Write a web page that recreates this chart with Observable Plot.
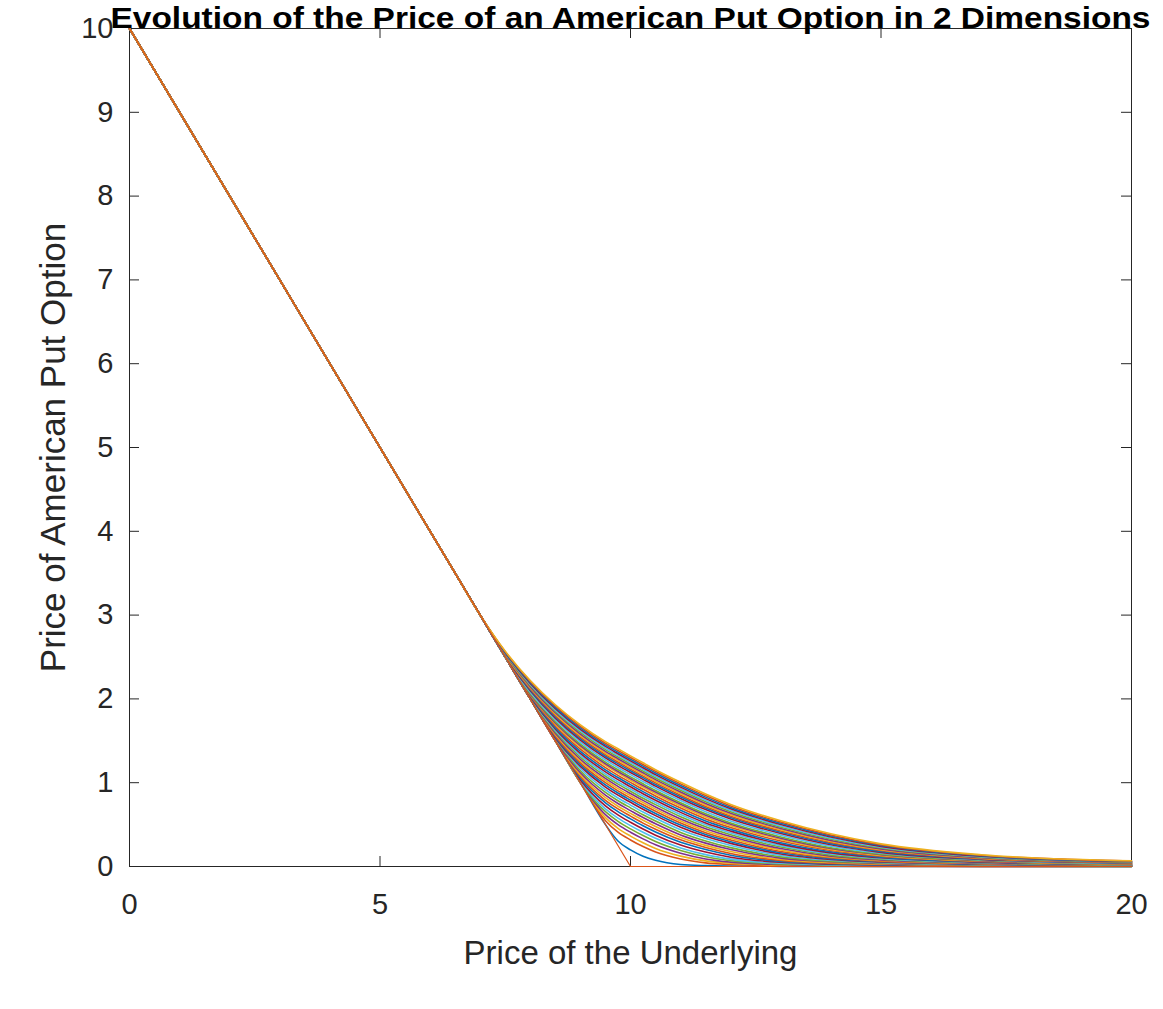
<!DOCTYPE html>
<html><head><meta charset="utf-8">
<script src="https://cdn.jsdelivr.net/npm/d3@7"></script>
<script src="https://cdn.jsdelivr.net/npm/@observablehq/plot@0.6"></script>
<style>
html,body{margin:0;padding:0;background:#fff;}
#chart svg{display:block;overflow:visible}
</style></head><body><div id="chart"></div>
<script>
// Price of the underlying (common grid for every curve)
const underlying = [0, 6.5, 7, 7.5, 8, 8.5, 9, 9.5, 9.75, 10, 10.25, 10.5, 11, 11.5, 12, 13, 14, 15, 17, 20];

// Option price curves, from the shortest to the longest time to maturity
const optionPrices = [
  [10, 3.5,3,2.5,2,1.5,1,0.5,0.304,0.198,0.123,0.074,0.024,0.010,0.005,0.002,0.001,0,0,0],
  [10, 3.5,3,2.5,2,1.5,1,0.547,0.410,0.317,0.238,0.173,0.089,0.043,0.024,0.010,0.005,0.002,0.001,0],
  [10, 3.5,3,2.5,2,1.5,1,0.583,0.455,0.363,0.284,0.216,0.124,0.067,0.038,0.017,0.009,0.005,0.002,0],
  [10, 3.5,3,2.5,2,1.5,1,0.619,0.500,0.409,0.330,0.259,0.158,0.090,0.052,0.023,0.012,0.007,0.002,0],
  [10, 3.5,3,2.5,2,1.5,1.003,0.654,0.539,0.449,0.369,0.298,0.190,0.116,0.070,0.031,0.017,0.010,0.004,0.001],
  [10, 3.5,3,2.5,2,1.5,1.015,0.688,0.577,0.488,0.408,0.336,0.222,0.142,0.088,0.038,0.022,0.013,0.005,0.002],
  [10, 3.5,3,2.5,2,1.5,1.033,0.724,0.616,0.528,0.447,0.374,0.256,0.172,0.111,0.050,0.028,0.017,0.007,0.003],
  [10, 3.5,3,2.5,2,1.5,1.052,0.760,0.655,0.568,0.486,0.412,0.289,0.202,0.134,0.061,0.034,0.021,0.009,0.003],
  [10, 3.5,3,2.5,2,1.5,1.073,0.790,0.687,0.601,0.518,0.445,0.318,0.227,0.156,0.073,0.040,0.026,0.011,0.004],
  [10, 3.5,3,2.5,2,1.5,1.094,0.821,0.719,0.634,0.551,0.477,0.347,0.252,0.178,0.085,0.047,0.030,0.013,0.004],
  [10, 3.5,3,2.5,2,1.505,1.118,0.852,0.752,0.667,0.584,0.510,0.377,0.279,0.202,0.100,0.056,0.036,0.017,0.006],
  [10, 3.5,3,2.5,2,1.525,1.142,0.884,0.785,0.700,0.617,0.542,0.407,0.305,0.225,0.115,0.064,0.041,0.020,0.007],
  [10, 3.5,3,2.5,2,1.530,1.169,0.916,0.818,0.733,0.650,0.575,0.438,0.333,0.251,0.132,0.074,0.047,0.023,0.009],
  [10, 3.5,3,2.5,2,1.534,1.195,0.948,0.851,0.766,0.683,0.607,0.469,0.360,0.276,0.149,0.084,0.053,0.026,0.011],
  [10, 3.5,3,2.5,2,1.546,1.216,0.974,0.877,0.792,0.710,0.633,0.494,0.382,0.296,0.164,0.094,0.059,0.030,0.012],
  [10, 3.5,3,2.5,2,1.558,1.237,1.000,0.903,0.818,0.736,0.659,0.519,0.404,0.316,0.179,0.104,0.064,0.033,0.013],
  [10, 3.5,3,2.5,2,1.575,1.259,1.026,0.930,0.845,0.763,0.685,0.544,0.428,0.337,0.197,0.114,0.072,0.037,0.015],
  [10, 3.5,3,2.5,2,1.591,1.280,1.051,0.956,0.871,0.789,0.711,0.568,0.451,0.357,0.214,0.123,0.079,0.040,0.016],
  [10, 3.5,3,2.5,2.005,1.608,1.304,1.077,0.983,0.898,0.815,0.738,0.594,0.474,0.379,0.232,0.136,0.087,0.044,0.019],
  [10, 3.5,3,2.5,2.014,1.624,1.327,1.103,1.009,0.924,0.841,0.764,0.620,0.497,0.400,0.249,0.149,0.095,0.048,0.021],
  [10, 3.5,3,2.5,2.022,1.641,1.351,1.129,1.036,0.951,0.868,0.790,0.646,0.520,0.422,0.267,0.163,0.104,0.052,0.024],
  [10, 3.5,3,2.5,2.031,1.657,1.375,1.154,1.062,0.977,0.894,0.816,0.671,0.543,0.443,0.284,0.176,0.112,0.056,0.026],
  [10, 3.5,3,2.5,2.040,1.677,1.400,1.180,1.088,1.004,0.921,0.842,0.697,0.568,0.465,0.304,0.190,0.122,0.061,0.029],
  [10, 3.5,3,2.5,2.048,1.697,1.424,1.206,1.114,1.030,0.947,0.868,0.722,0.592,0.486,0.323,0.203,0.132,0.065,0.031],
  [10, 3.5,3,2.5,2.056,1.713,1.442,1.226,1.134,1.050,0.967,0.888,0.742,0.611,0.503,0.338,0.214,0.140,0.070,0.033],
  [10, 3.5,3,2.5,2.064,1.728,1.460,1.245,1.154,1.069,0.987,0.907,0.761,0.629,0.520,0.353,0.224,0.147,0.074,0.035],
  [10, 3.5,3,2.5,2.080,1.750,1.485,1.271,1.181,1.096,1.014,0.933,0.787,0.654,0.543,0.374,0.242,0.158,0.080,0.038],
  [10, 3.5,3,2.507,2.097,1.771,1.509,1.297,1.207,1.122,1.040,0.959,0.812,0.679,0.566,0.394,0.259,0.169,0.085,0.041],
  [10, 3.5,3,2.514,2.109,1.787,1.527,1.316,1.227,1.142,1.060,0.979,0.832,0.698,0.584,0.409,0.273,0.180,0.090,0.044],
  [10, 3.5,3,2.520,2.121,1.802,1.545,1.335,1.247,1.162,1.079,0.998,0.851,0.716,0.601,0.424,0.286,0.190,0.094,0.046],
  [10, 3.5,3,2.526,2.134,1.819,1.563,1.355,1.267,1.182,1.099,1.018,0.870,0.735,0.618,0.439,0.299,0.200,0.100,0.049],
  [10, 3.5,3,2.532,2.146,1.835,1.581,1.374,1.286,1.201,1.118,1.037,0.889,0.753,0.635,0.454,0.311,0.210,0.105,0.052],
  [10, 3.5,3,2.539,2.159,1.851,1.600,1.394,1.306,1.221,1.138,1.057,0.909,0.772,0.653,0.469,0.325,0.220,0.111,0.055],
  [10, 3.5,3,2.545,2.171,1.866,1.618,1.413,1.326,1.241,1.158,1.076,0.928,0.791,0.670,0.484,0.338,0.230,0.117,0.057],
  [10, 3.5,3,2.551,2.183,1.883,1.636,1.433,1.346,1.261,1.178,1.096,0.947,0.810,0.688,0.500,0.351,0.240,0.123,0.060],
  [10, 3.5,3,2.557,2.195,1.899,1.654,1.452,1.365,1.280,1.198,1.116,0.966,0.828,0.705,0.515,0.364,0.250,0.128,0.062],
  [10, 3.5,3,2.564,2.208,1.915,1.672,1.471,1.385,1.300,1.218,1.136,0.986,0.847,0.723,0.530,0.377,0.260,0.134,0.065],
  [10, 3.5,3,2.570,2.220,1.930,1.690,1.490,1.405,1.320,1.238,1.155,1.005,0.865,0.740,0.545,0.390,0.270,0.140,0.068]
];

// Payoff at expiry
const payoffS = [0, 10, 20];
const payoffV = [10, 0, 0];

const xTicks = [0, 5, 10, 15, 20];
const yTicks = [0, 1, 2, 3, 4, 5, 6, 7, 8, 9, 10];
const colors = ["#0072BD", "#D95319", "#EDB120", "#7E2F8E", "#77AC30", "#4DBEEE", "#A2142F"];

const titleText = "Evolution of the Price of an American Put Option in 2 Dimensions";
const xLabel = "Price of the Underlying";
const yLabel = "Price of American Put Option";

const rows = optionPrices.flatMap((vals, k) => vals.map((v, i) => ({S: underlying[i], V: v, k})));
const payoffRows = payoffS.map((s, i) => ({S: s, V: payoffV[i]}));

const W = 1163, H = 1009;
const mL = 129, mR = 32, mT = 28, mB = 143;
const innerW = W - mL - mR, innerH = H - mT - mB;
const tickLen = 10;
const ink = "#262626";

const plot = Plot.plot({
  width: W, height: H,
  marginLeft: mL, marginRight: mR, marginTop: mT, marginBottom: mB,
  style: {fontFamily: "'Liberation Sans', Arial, Helvetica, sans-serif", color: ink, background: "white", overflow: "visible"},
  x: {domain: [0, 20]},
  y: {domain: [0, 10]},
  marks: [
    Plot.frame({stroke: ink, strokeWidth: 1}),
    Plot.tickX(xTicks, {x: d => d, stroke: ink, insetTop: innerH - tickLen}),
    Plot.tickX(xTicks, {x: d => d, stroke: ink, insetBottom: innerH - tickLen}),
    Plot.tickY(yTicks, {y: d => d, stroke: ink, insetRight: innerW - tickLen}),
    Plot.tickY(yTicks, {y: d => d, stroke: ink, insetLeft: innerW - tickLen}),
    Plot.line(rows, {x: "S", y: "V", z: "k", stroke: d => colors[d.k % 7], strokeWidth: 1.6, curve: "monotone-x"}),
    Plot.line(payoffRows, {x: "S", y: "V", stroke: "#D95319", strokeWidth: 1.2}),
    Plot.axisX(xTicks, {tickSize: 0, tickPadding: 27, fontSize: 29, label: null, fill: ink, tickFormat: d => String(d)}),
    Plot.axisY(yTicks, {tickSize: 0, tickPadding: 16, fontSize: 29, label: null, fill: ink, tickFormat: d => String(d)}),
    Plot.text([xLabel], {frameAnchor: "bottom", dy: 74, lineAnchor: "top", fontSize: 33, text: d => d, fill: ink}),
    Plot.text([yLabel], {frameAnchor: "left", dx: -89, rotate: -90, textAnchor: "middle", lineAnchor: "top", fontSize: 35, text: d => d, fill: ink}),
    Plot.text([titleText], {frameAnchor: "top", dy: -0.5, lineAnchor: "bottom", fontSize: 30, fontWeight: "bold", text: d => d, fill: "#000", className: "chart-title"})
  ]
});
// stretch the title to the width it has in the reference
d3.select(plot).selectAll(".chart-title text")
  .attr("textLength", 1040)
  .attr("lengthAdjust", "spacingAndGlyphs");
document.getElementById("chart").appendChild(plot);
</script></body></html>
